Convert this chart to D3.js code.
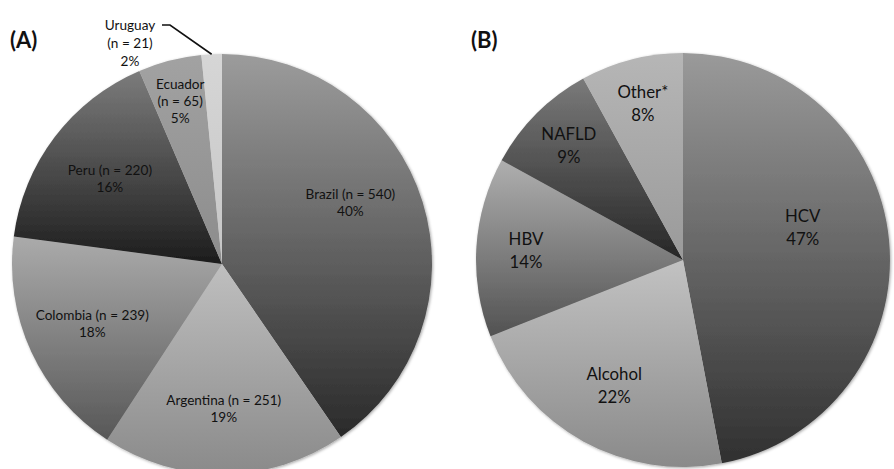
<!DOCTYPE html>
<html>
<head>
<meta charset="utf-8">
<script src="https://cdn.jsdelivr.net/npm/d3@7"></script>
<style>
  html, body { margin: 0; padding: 0; background: #fff; }
  svg { display: block; }
  text { font-family: Lato, "Open Sans", sans-serif; fill: #111; }
</style>
</head>
<body>
<svg id="chart" width="894" height="469"></svg>
<script>
// ---- Data ----
const countries = ["Brazil", "Argentina", "Colombia", "Peru", "Ecuador", "Uruguay"];
const countryN = [540, 251, 239, 220, 65, 21];
const countryPct = ["40%", "19%", "18%", "16%", "5%", "2%"];

const causes = ["HCV", "Alcohol", "HBV", "NAFLD", "Other*"];
const causePct = [47, 22, 14, 9, 8];

const panelTitles = ["(A)", "(B)"];

// ---- Styling / layout (not data) ----
const gradA = [["#9c9c9c", "#2a2a2a"], ["#bfbfbf", "#8a8a8a"], ["#ababab", "#575757"],
               ["#7c7c7c", "#1c1c1c"], ["#a2a2a2", "#8c8c8c"], ["#d6d6d6", "#c6c6c6"]];
const gradB = [["#9a9a9a", "#303030"], ["#c2c2c2", "#8a8a8a"], ["#afafaf", "#525252"],
               ["#7a7a7a", "#262626"], ["#b6b6b6", "#9a9a9a"]];
const labelA = [ {rf: 0.68, dx: -8, dy: -19}, {rf: 0.69, dx: 0, dy: 0}, {rf: 0.68, dx: 0, dy: 0},
                 {rf: 0.67, dx: 0, dy: 0}, {rf: 0.80, dx: 0, dy: 0}, null ];
const labelB = [ {rf: 0.60, dx: -4, dy: -21}, {rf: 0.69, dx: 0, dy: 0}, {rf: 0.76, dx: 0, dy: 0},
                 {rf: 0.78, dx: 0, dy: 0}, {rf: 0.78, dx: 0, dy: 0} ];

const svg = d3.select("#chart");
const defs = svg.append("defs");

const shadow = defs.append("filter").attr("id", "shadow")
  .attr("x", "-10%").attr("y", "-10%").attr("width", "120%").attr("height", "120%");
shadow.append("feDropShadow").attr("dx", 1).attr("dy", 1)
  .attr("stdDeviation", 1.6).attr("flood-color", "#000").attr("flood-opacity", 0.35);

function makeGrad(id, stops) {
  const g = defs.append("linearGradient").attr("id", id)
    .attr("x1", 0).attr("y1", 0).attr("x2", 0).attr("y2", 1);
  g.append("stop").attr("offset", "0%").attr("stop-color", stops[0]);
  g.append("stop").attr("offset", "100%").attr("stop-color", stops[1]);
}

const pie = d3.pie().sort(null).value(d => d.v);

function drawPie(cfg) {
  const g = svg.append("g").attr("transform", `translate(${cfg.cx},${cfg.cy})`);
  const arcs = pie(cfg.data);
  const arc = d3.arc().innerRadius(0).outerRadius(cfg.r);
  cfg.data.forEach((d, i) => makeGrad(cfg.id + i, cfg.grads[i]));
  const slices = g.append("g").attr("filter", "url(#shadow)");
  slices.selectAll("path").data(arcs).join("path")
    .attr("d", arc)
    .attr("fill", (d, i) => `url(#${cfg.id}${i})`);

  arcs.forEach((a, i) => {
    const lay = cfg.labels[i];
    if (!lay) return;
    const la = d3.arc().innerRadius(cfg.r * lay.rf).outerRadius(cfg.r * lay.rf);
    const [x, y] = la.centroid(a);
    const lines = cfg.data[i].lines;
    const t = g.append("text").attr("text-anchor", "middle")
      .attr("font-size", cfg.fs);
    const y0 = y + lay.dy - (lines.length - 1) * cfg.lh / 2 + cfg.fs * 0.36;
    lines.forEach((ln, k) => {
      t.append("tspan").attr("x", x + lay.dx).attr("y", y0 + k * cfg.lh).text(ln);
    });
  });
  return {g, arcs};
}

// Panel A
const dataA = countries.map((c, i) => ({
  v: countryN[i],
  lines: (c === "Ecuador")
    ? [c, `(n = ${countryN[i]})`, countryPct[i]]
    : [`${c} (n = ${countryN[i]})`, countryPct[i]]
}));
const A = drawPie({id: "ga", cx: 222, cy: 264, r: 210, data: dataA, grads: gradA,
                   labels: labelA, fs: 13.6, lh: 17});

// Uruguay outside label with leader line
(function() {
  const i = countries.indexOf("Uruguay");
  const a = A.arcs[i];
  const mid = (a.startAngle + a.endAngle) / 2;
  const px = 210 * Math.sin(mid), py = -210 * Math.cos(mid);
  const g = A.g;
  g.append("path")
    .attr("d", `M${px},${py} L${-52},${-239} L${-60},${-239}`)
    .attr("fill", "none").attr("stroke", "#111").attr("stroke-width", 1.6);
  const t = g.append("text").attr("text-anchor", "middle").attr("font-size", 13.6);
  const lines = [countries[i], `(n = ${countryN[i]})`, countryPct[i]];
  lines.forEach((ln, k) => {
    t.append("tspan").attr("x", -92).attr("y", -239 + 5 + k * 18).text(ln);
  });
})();

// Panel B
const dataB = causes.map((c, i) => ({ v: causePct[i], lines: [c, causePct[i] + "%"] }));
drawPie({id: "gb", cx: 683, cy: 260, r: 207, data: dataB, grads: gradB,
         labels: labelB, fs: 16.8, lh: 23});

// Panel titles
svg.append("text").attr("x", 10).attr("y", 48).attr("font-size", 22).attr("font-weight", "bold")
  .style("font-family", "Lato, sans-serif").text(panelTitles[0]);
svg.append("text").attr("x", 471).attr("y", 48).attr("font-size", 22).attr("font-weight", "bold")
  .style("font-family", "Lato, sans-serif").text(panelTitles[1]);
</script>
</body>
</html>
